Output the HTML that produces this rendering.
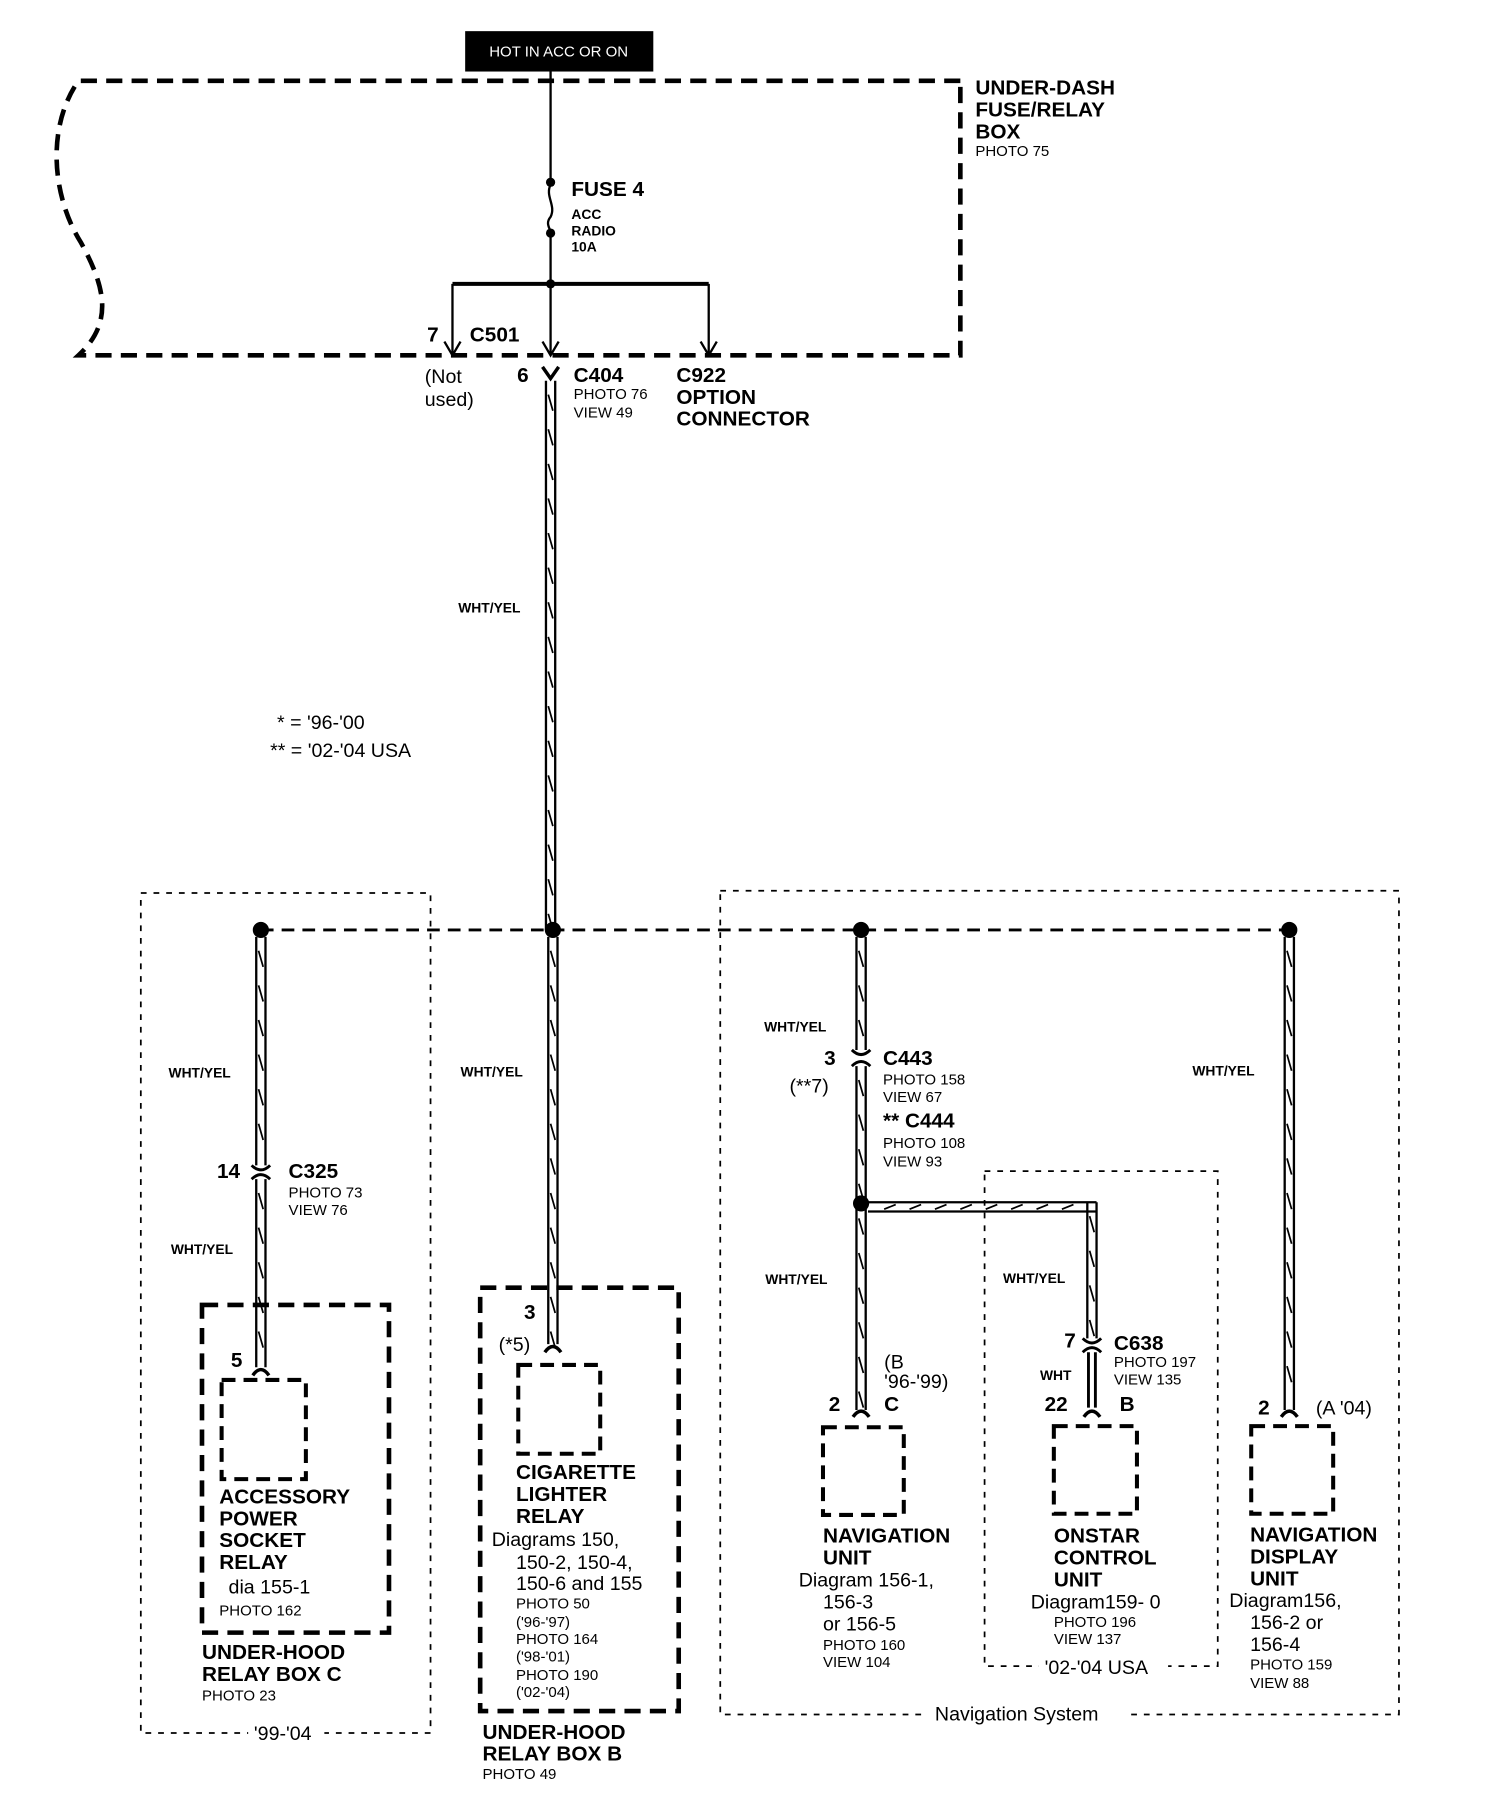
<!DOCTYPE html>
<html><head><meta charset="utf-8">
<style>
html,body{margin:0;padding:0;background:#fff;}
svg{display:block;}
text{font-family:"Liberation Sans Narrow","Liberation Sans",Arial,sans-serif;fill:#000;}
.b{font-weight:bold;font-size:18px;}
.s{font-size:13px;}
.m{font-size:17px;}
.w{font-weight:bold;font-size:12px;}
</style></head>
<body>
<svg id="d" width="1504" height="1808" viewBox="0 0 1303 1567" preserveAspectRatio="none" xmlns="http://www.w3.org/2000/svg">
<g fill="none" stroke="#000">
<path d="M832,70 L68,70 C40,110 45,170 70,210 C92,250 98,280 68,308 L832,308 Z" stroke-width="4" stroke-dasharray="14,8"/>
<path d="M122,774 H373 V1502 H122 Z" stroke-width="1.5" stroke-dasharray="5,6"/>
<path d="M624,772 H1212 V1486 H624 Z" stroke-width="1.5" stroke-dasharray="5,6"/>
<path d="M853,1015 H1055 V1444 H853 Z" stroke-width="1.5" stroke-dasharray="5,6"/>
<rect x="175" y="1131" width="162" height="284" stroke-width="4" stroke-dasharray="14,8"/>
<rect x="192" y="1196" width="73" height="86" stroke-width="3.5" stroke-dasharray="12,7"/>
<rect x="416" y="1116" width="172" height="367" stroke-width="4" stroke-dasharray="14,8"/>
<rect x="449" y="1183" width="71" height="77" stroke-width="3.5" stroke-dasharray="12,7"/>
<rect x="713" y="1237" width="70" height="76" stroke-width="3.5" stroke-dasharray="12,7"/>
<rect x="913" y="1236" width="72" height="76" stroke-width="3.5" stroke-dasharray="12,7"/>
<rect x="1084" y="1236" width="71" height="76" stroke-width="3.5" stroke-dasharray="12,7"/>
<path d="M477,62 V158" stroke-width="2"/>
<path d="M477,160 C472,170 482,178 477,188 C472,194 477,198 477,202" stroke-width="2"/>
<path d="M477,202 V308" stroke-width="2"/>
<path d="M392,246 H614" stroke-width="3.5"/>
<path d="M392,246 V307 M614,246 V307" stroke-width="2"/>
<path d="M385,296 L392,308 L399,296 M470,296 L477,308 L484,296 M607,296 L614,308 L621,296" stroke-width="2"/>
<path d="M470,318 L477,328 L484,318" stroke-width="3"/>
<path d="M226,806 H1117" stroke-width="2.5" stroke-dasharray="11,7"/>
<path d="M218,1010 Q226,1018 234,1010 M218,1022 Q226,1014 234,1022" stroke-width="2.5"/>
<path d="M738,910 Q746,918 754,910 M738,924 Q746,916 754,924" stroke-width="2.5"/>
<path d="M938,1160 Q946,1168 954,1160 M938,1172 Q946,1164 954,1172" stroke-width="2.5"/>
<path d="M219,1192 Q226,1182 233,1192" stroke-width="3"/>
<path d="M472,1172 Q479,1162 486,1172" stroke-width="3"/>
<path d="M739,1228 Q746,1218 753,1228" stroke-width="3"/>
<path d="M939,1228 Q946,1218 953,1228" stroke-width="3"/>
<path d="M1110,1228 Q1117,1218 1124,1228" stroke-width="3"/>
<path d="M943,1172 V1220 M949,1172 V1220" stroke-width="2.5"/>
</g>
<g id="wires" fill="none" stroke="#000" stroke-width="2"></g>
<g fill="#000">
<circle cx="477" cy="158" r="4"/><circle cx="477" cy="202" r="4"/><circle cx="477" cy="246" r="4"/>
<circle cx="226" cy="806" r="7"/><circle cx="479" cy="806" r="7"/><circle cx="746" cy="806" r="7"/><circle cx="1117" cy="806" r="7"/>
<circle cx="746" cy="1043" r="7"/>
<rect x="403" y="27" width="163" height="35"/>
</g>
<text x="484" y="49" text-anchor="middle" style="fill:#fff;font-size:13px">HOT IN ACC OR ON</text>
<text class="b" x="845" y="82">UNDER-DASH</text><text class="b" x="845" y="101">FUSE/RELAY</text><text class="b" x="845" y="120">BOX</text>
<text class="s" x="845" y="135">PHOTO 75</text>
<text class="b" x="495" y="170">FUSE 4</text>
<text class="w" x="495" y="190">ACC</text><text class="w" x="495" y="204">RADIO</text><text class="w" x="495" y="218">10A</text>
<text class="b" x="370" y="296">7</text><text class="b" x="407" y="296">C501</text>
<text class="m" x="368" y="332">(Not</text><text class="m" x="368" y="352">used)</text>
<text class="b" x="448" y="331">6</text><text class="b" x="497" y="331">C404</text>
<text class="s" x="497" y="346">PHOTO 76</text><text class="s" x="497" y="362">VIEW 49</text>
<text class="b" x="586" y="331">C922</text><text class="b" x="586" y="350">OPTION</text><text class="b" x="586" y="369">CONNECTOR</text>
<text class="w" x="397" y="531">WHT/YEL</text>
<text class="m" x="240" y="632">* = '96-'00</text><text class="m" x="234" y="656">** = '02-'04 USA</text>
<text class="w" x="146" y="934">WHT/YEL</text><text class="w" x="148" y="1087">WHT/YEL</text>
<text class="w" x="399" y="933">WHT/YEL</text>
<text class="w" x="662" y="894">WHT/YEL</text><text class="w" x="663" y="1113">WHT/YEL</text>
<text class="w" x="869" y="1112">WHT/YEL</text><text class="w" x="1033" y="932">WHT/YEL</text>
<text class="b" x="188" y="1021">14</text><text class="b" x="250" y="1021">C325</text>
<text class="s" x="250" y="1038">PHOTO 73</text><text class="s" x="250" y="1053">VIEW 76</text>
<text class="b" x="200" y="1185">5</text>
<text class="b" x="190" y="1303">ACCESSORY</text><text class="b" x="190" y="1322">POWER</text><text class="b" x="190" y="1341">SOCKET</text><text class="b" x="190" y="1360">RELAY</text>
<text class="m" x="198" y="1381">dia 155-1</text><text class="s" x="190" y="1400">PHOTO 162</text>
<text class="b" x="175" y="1438">UNDER-HOOD</text><text class="b" x="175" y="1457">RELAY BOX C</text><text class="s" x="175" y="1474">PHOTO 23</text>
<rect x="215" y="1495" width="66" height="14" fill="#fff"/><text class="m" x="220" y="1508">'99-'04</text>
<text class="b" x="454" y="1143">3</text><text class="m" x="432" y="1171">(*5)</text>
<text class="b" x="447" y="1282">CIGARETTE</text><text class="b" x="447" y="1301">LIGHTER</text><text class="b" x="447" y="1320">RELAY</text>
<text class="m" x="426" y="1340">Diagrams 150,</text><text class="m" x="447" y="1360">150-2, 150-4,</text><text class="m" x="447" y="1378">150-6 and 155</text>
<text class="s" x="447" y="1394">PHOTO 50</text><text class="s" x="447" y="1410">('96-'97)</text>
<text class="s" x="447" y="1425">PHOTO 164</text><text class="s" x="447" y="1440">('98-'01)</text>
<text class="s" x="447" y="1456">PHOTO 190</text><text class="s" x="447" y="1471">('02-'04)</text>
<text class="b" x="418" y="1507">UNDER-HOOD</text><text class="b" x="418" y="1526">RELAY BOX B</text><text class="s" x="418" y="1542">PHOTO 49</text>
<text class="b" x="714" y="923">3</text><text class="m" x="684" y="947">(**7)</text>
<text class="b" x="765" y="923">C443</text><text class="s" x="765" y="940">PHOTO 158</text><text class="s" x="765" y="955">VIEW 67</text>
<text class="b" x="765" y="977">** C444</text><text class="s" x="765" y="995">PHOTO 108</text><text class="s" x="765" y="1011">VIEW 93</text>
<text class="m" x="766" y="1186">(B</text><text class="m" x="766" y="1203">'96-'99)</text>
<text class="b" x="718" y="1223">2</text><text class="b" x="766" y="1223">C</text>
<text class="b" x="922" y="1168">7</text><text class="b" x="965" y="1170">C638</text>
<text class="s" x="965" y="1185">PHOTO 197</text><text class="s" x="965" y="1200">VIEW 135</text>
<text class="w" x="901" y="1196">WHT</text>
<text class="b" x="905" y="1223">22</text><text class="b" x="970" y="1223">B</text>
<text class="b" x="1090" y="1226">2</text><text class="m" x="1140" y="1226">(A '04)</text>
<text class="b" x="713" y="1337">NAVIGATION</text><text class="b" x="713" y="1356">UNIT</text>
<text class="m" x="692" y="1375">Diagram 156-1,</text><text class="m" x="713" y="1394">156-3</text><text class="m" x="713" y="1413">or 156-5</text>
<text class="s" x="713" y="1430">PHOTO 160</text><text class="s" x="713" y="1445">VIEW 104</text>
<text class="b" x="913" y="1337">ONSTAR</text><text class="b" x="913" y="1356">CONTROL</text><text class="b" x="913" y="1375">UNIT</text>
<text class="m" x="893" y="1394">Diagram159- 0</text><text class="s" x="913" y="1410">PHOTO 196</text><text class="s" x="913" y="1425">VIEW 137</text>
<rect x="900" y="1437" width="112" height="14" fill="#fff"/><text class="m" x="905" y="1451">'02-'04 USA</text>
<text class="b" x="1083" y="1336">NAVIGATION</text><text class="b" x="1083" y="1355">DISPLAY</text><text class="b" x="1083" y="1374">UNIT</text>
<text class="m" x="1065" y="1393">Diagram156,</text><text class="m" x="1083" y="1412">156-2 or</text><text class="m" x="1083" y="1431">156-4</text>
<text class="s" x="1083" y="1447">PHOTO 159</text><text class="s" x="1083" y="1463">VIEW 88</text>
<rect x="803" y="1478" width="176" height="16" fill="#fff"/><text class="m" x="810" y="1491">Navigation System</text>
</svg>
<script>
var g=document.getElementById('wires'),ns='http://www.w3.org/2000/svg';
function p(d,w){var e=document.createElementNS(ns,'path');e.setAttribute('d',d);if(w)e.setAttribute('stroke-width',w);g.appendChild(e);}
function vw(x,y1,y2){p('M'+(x-4)+','+y1+' V'+y2+' M'+(x+4)+','+y1+' V'+y2);var d='';for(var y=y1+12;y<y2-10;y+=30){d+='M'+(x-2)+','+y+' L'+(x+2)+','+(y+14)+' ';}if(d)p(d,1.5);}
function hw(y,x1,x2){p('M'+x1+','+(y-4)+' H'+x2+' M'+x1+','+(y+4)+' H'+x2);var d='';for(var x=x1+14;x<x2-8;x+=22){d+='M'+x+','+(y+2)+' L'+(x+10)+','+(y-2)+' ';}p(d,1.5);}
vw(477,330,806);
vw(226,812,1010);vw(226,1022,1185);
vw(479,812,1165);
vw(746,812,910);vw(746,924,1222);
vw(1117,812,1222);
hw(1046,752,950);vw(946,1042,1160);
</script>
</body></html>
